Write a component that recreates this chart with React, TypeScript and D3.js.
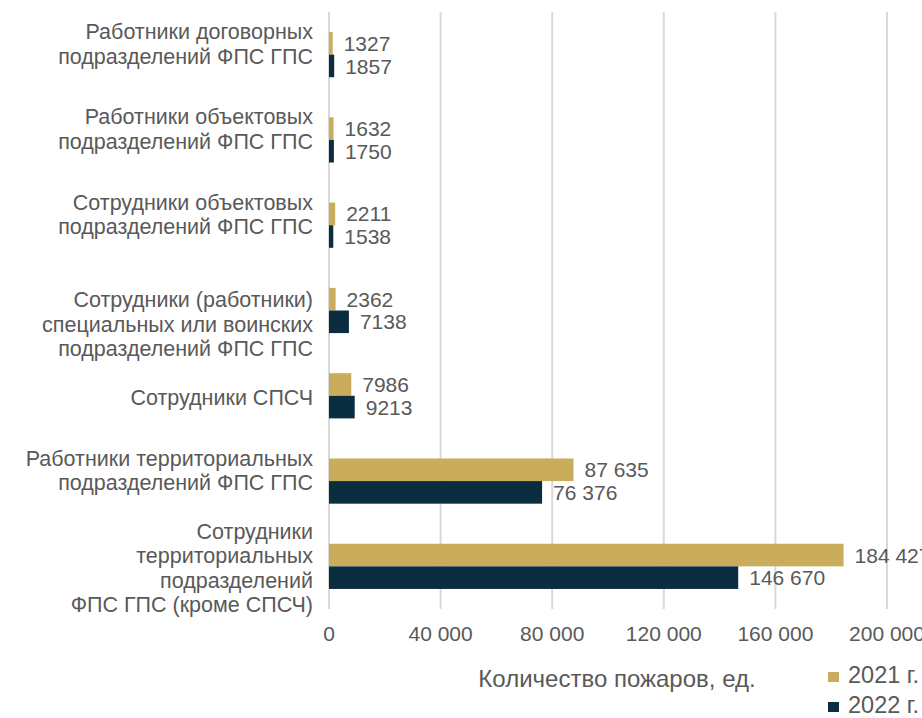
import React, { useEffect, useRef } from 'react';
import * as d3 from 'd3';

// Categories (line breaks as in the source chart)
const categories = [
  'Работники договорных\nподразделений ФПС ГПС\n',
  'Работники объектовых\nподразделений ФПС ГПС\n',
  'Сотрудники объектовых\nподразделений ФПС ГПС\n',
  '\nСотрудники (работники)\nспециальных или воинских\nподразделений ФПС ГПС',
  'Сотрудники СПСЧ',
  'Работники территориальных\nподразделений ФПС ГПС\n',
  'Сотрудники\nтерриториальных\nподразделений\nФПС ГПС (кроме СПСЧ)',
];

const values2021 = [1327, 1632, 2211, 2362, 7986, 87635, 184427];
const values2022 = [1857, 1750, 1538, 7138, 9213, 76376, 146670];

const seriesNames = ['2021 г.', '2022 г.'];
const xTicks = [0, 40000, 80000, 120000, 160000, 200000];
const axisTitle = 'Количество пожаров, ед.';

const COLORS = ['#CAAD5C', '#0B2D40'];
const TEXT = '#595959';
const GRID = '#D9D9D9';
const FONT = '"Liberation Sans", Arial, Helvetica, sans-serif';

// Numbers like 87 635 (space thousands), small ones without a separator
const fmtValue = (v: number) => (v >= 10000 ? d3.format(',')(v).replace(/,/g, ' ') : String(v));
const fmtTick = (v: number) => (v === 0 ? '0' : d3.format(',')(v).replace(/,/g, ' '));

const App = () => {
  const ref = useRef<SVGSVGElement | null>(null);

  useEffect(() => {
    const width = 922;
    const height = 718;
    const margin = { top: 12, right: 35, bottom: 109, left: 329 };

    const svg = d3.select(ref.current);
    svg.selectAll('*').remove();

    const chartWidth = width - margin.left - margin.right;
    const chartHeight = height - margin.top - margin.bottom;

    const chart = svg.append('g')
      .attr('transform', `translate(${margin.left}, ${margin.top})`);

    const xScale = d3.scaleLinear()
      .domain([0, 200000])
      .range([0, chartWidth]);

    const yScale = d3.scaleBand<number>()
      .domain(d3.range(categories.length))
      .range([0, chartHeight])
      .paddingInner(0.47)
      .paddingOuter(0.235);

    const inner = d3.scaleBand<number>()
      .domain([0, 1])
      .range([0, yScale.bandwidth()]);

    // Vertical gridlines
    chart.append('g')
      .selectAll('line')
      .data(xTicks)
      .enter()
      .append('line')
      .attr('x1', d => xScale(d))
      .attr('x2', d => xScale(d))
      .attr('y1', 0)
      .attr('y2', chartHeight)
      .attr('stroke', GRID)
      .attr('stroke-width', 2);

    // Bars + value labels
    const series = [values2021, values2022];
    series.forEach((vals, s) => {
      chart.append('g')
        .selectAll('rect')
        .data(vals)
        .enter()
        .append('rect')
        .attr('x', xScale(0))
        .attr('y', (d, i) => (yScale(i) as number) + (inner(s) as number))
        .attr('width', d => xScale(d) - xScale(0))
        .attr('height', inner.bandwidth())
        .attr('fill', COLORS[s]);

      chart.append('g')
        .selectAll('text')
        .data(vals)
        .enter()
        .append('text')
        .attr('x', d => xScale(d) + 11)
        .attr('y', (d, i) => (yScale(i) as number) + (inner(s) as number) + inner.bandwidth() / 2)
        .attr('dy', '0.36em')
        .attr('fill', TEXT)
        .style('font-family', FONT)
        .style('font-size', '21px')
        .text(d => fmtValue(d));
    });

    // Category labels, right aligned left of the axis
    const lineHeight = 24.5;
    categories.forEach((label, i) => {
      const lines = label.split('\n');
      const cy = (yScale(i) as number) + yScale.bandwidth() / 2 + 1.5;
      const t = chart.append('text')
        .attr('text-anchor', 'end')
        .attr('fill', TEXT)
        .style('font-family', FONT)
        .style('font-size', '21.5px');
      lines.forEach((line, j) => {
        t.append('tspan')
          .attr('x', -16)
          .attr('y', cy + (j - (lines.length - 1) / 2) * lineHeight)
          .attr('dy', '0.35em')
          .text(line);
      });
    });

    // X tick labels
    chart.append('g')
      .selectAll('text')
      .data(xTicks)
      .enter()
      .append('text')
      .attr('x', d => xScale(d))
      .attr('y', chartHeight + 32)
      .attr('text-anchor', 'middle')
      .attr('fill', TEXT)
      .style('font-family', FONT)
      .style('font-size', '21px')
      .text(d => fmtTick(d));

    // Axis title
    svg.append('text')
      .attr('x', 617)
      .attr('y', 687)
      .attr('text-anchor', 'middle')
      .attr('fill', TEXT)
      .style('font-family', FONT)
      .style('font-size', '24px')
      .text(axisTitle);

    // Legend
    const legend = svg.append('g').attr('transform', 'translate(828, 672)');
    seriesNames.forEach((name, i) => {
      legend.append('rect')
        .attr('x', 0)
        .attr('y', i * 30)
        .attr('width', 11)
        .attr('height', 10)
        .attr('fill', COLORS[i]);
      legend.append('text')
        .attr('x', 20)
        .attr('y', i * 30 + 11)
        .attr('fill', TEXT)
        .style('font-family', FONT)
        .style('font-size', '23.5px')
        .text(name);
    });
  }, []);

  return (
    <svg
      ref={ref}
      width={922}
      height={718}
      style={{ position: 'absolute', left: 0, top: 0, background: '#fff' }}
    />
  );
};

export default App;
